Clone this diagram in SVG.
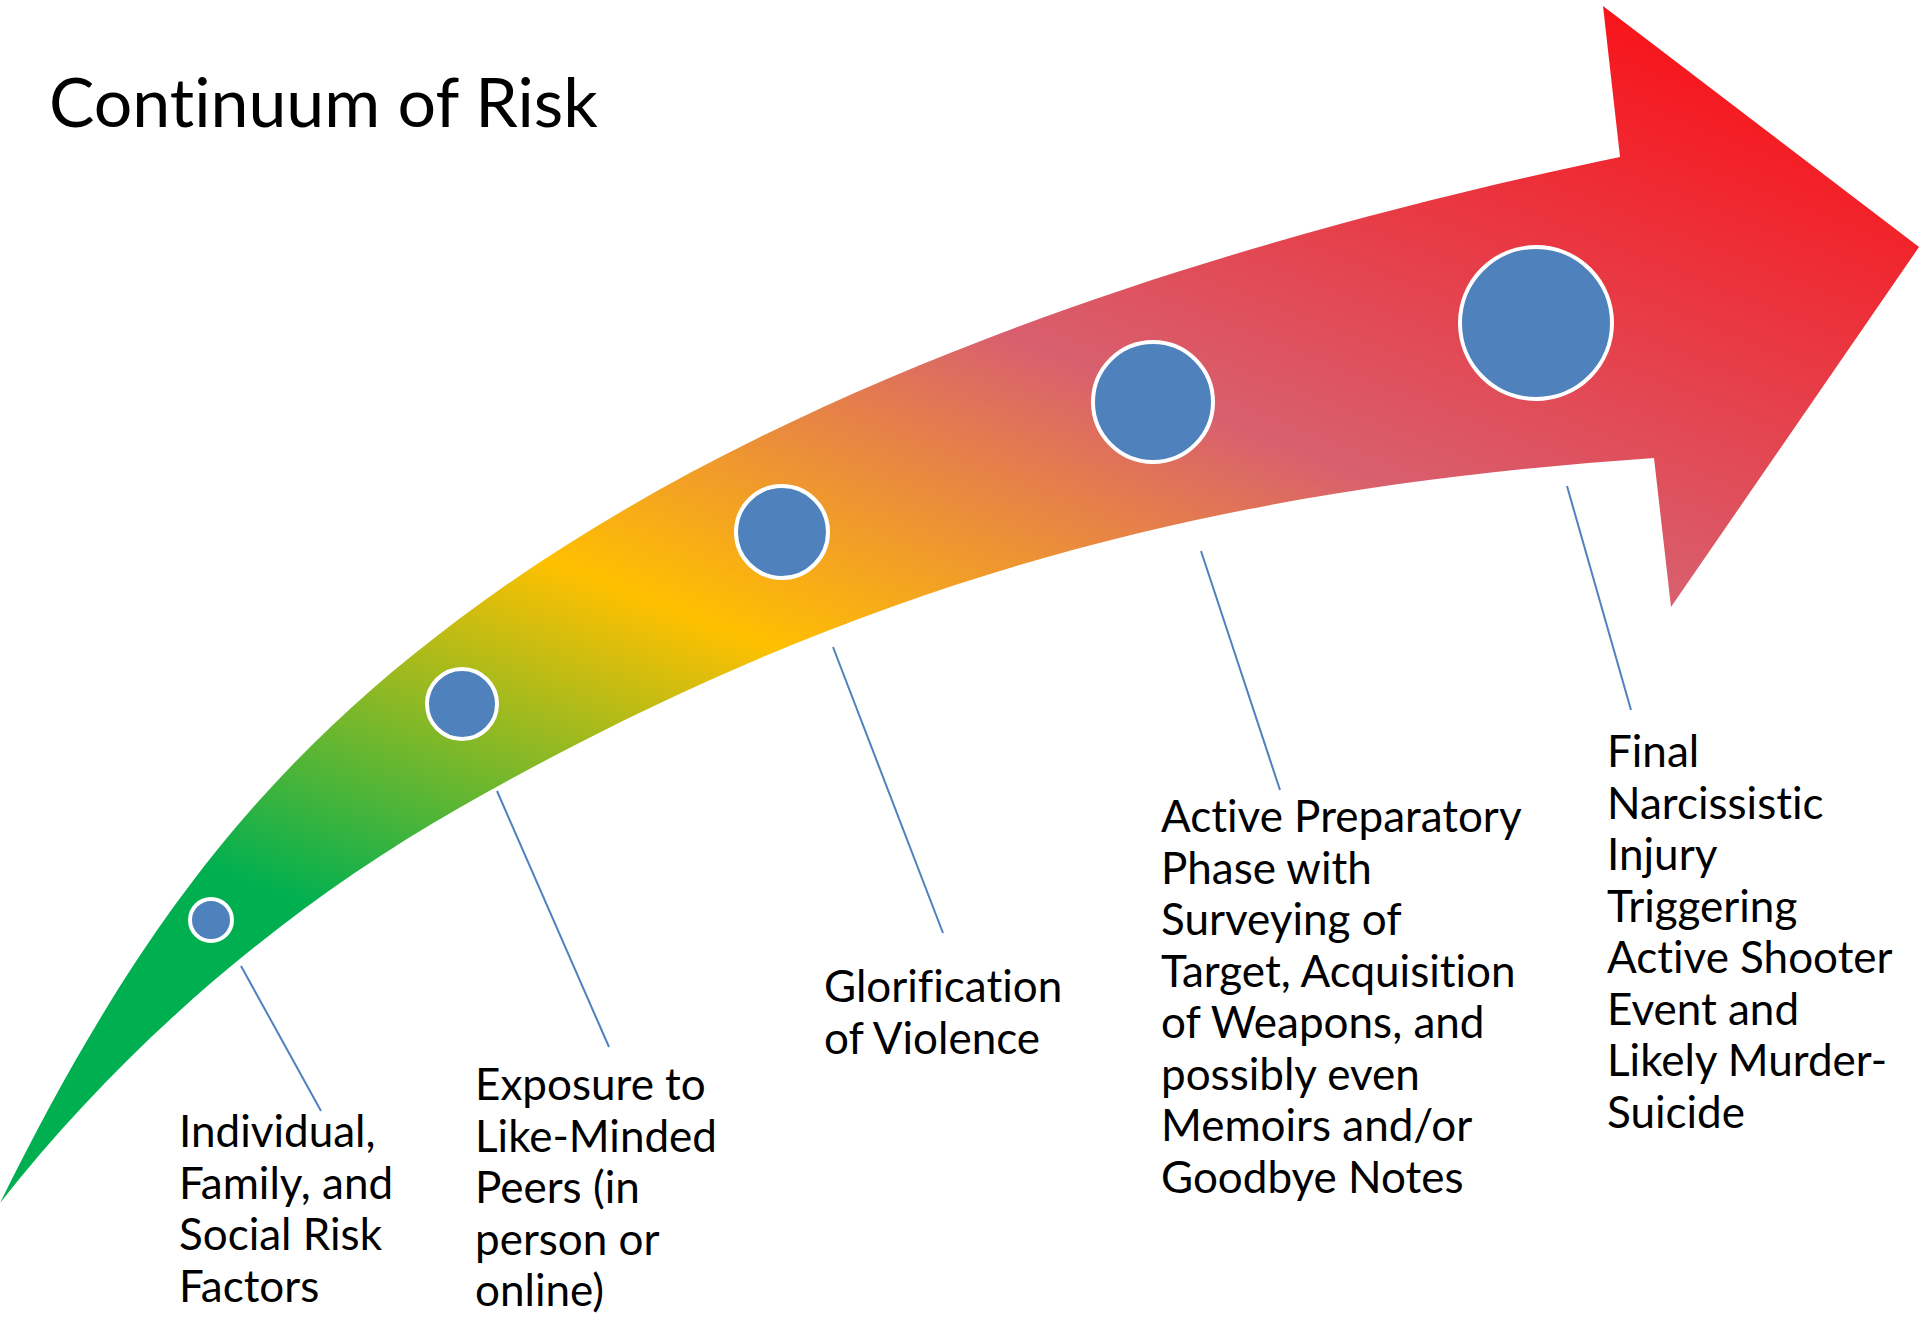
<svg xmlns="http://www.w3.org/2000/svg" width="1920" height="1317" viewBox="0 0 1920 1317">
<defs>
<linearGradient id="riskGrad" gradientUnits="userSpaceOnUse" x1="0" y1="1206" x2="623" y2="-381">
<stop offset="0" stop-color="#00B050"/>
<stop offset="0.23" stop-color="#00B050"/>
<stop offset="0.47" stop-color="#FFC000"/>
<stop offset="0.69" stop-color="#D8606E"/>
<stop offset="1" stop-color="#F8141A"/>
</linearGradient>
<style>
.dot{fill:#4F81BD;stroke:#FFFFFF;stroke-width:4}
.lead{stroke:#4F81BD;stroke-width:2;fill:none}
.lbl{font-family:Lato,"Open Sans","Liberation Sans",sans-serif;font-size:44px;fill:#000000;font-variant-ligatures:none;font-feature-settings:"liga" 0,"clig" 0}
.title{font-family:Lato,"Open Sans","Liberation Sans",sans-serif;font-size:68px;fill:#000000;font-variant-ligatures:none;font-feature-settings:"liga" 0,"clig" 0}
</style>
</defs>
<rect width="1920" height="1317" fill="#FFFFFF"/>
<text class="title" x="49" y="127">Continuum of Risk</text>
<g id="arrow">
<path fill="url(#riskGrad)" d="M 0,1203 C 134,932 259,769 459,619 C 779,379 1228,239 1620,157 L 1603,6 L 1919,247 L 1671,607 L 1654,458 C 1235,487 876,570 459,808 C 285,907 125,1044 0,1203 Z"/>
</g>
<g id="connectors">
<line class="lead" x1="241" y1="966" x2="321" y2="1111"/>
<line class="lead" x1="497" y1="791" x2="609" y2="1047"/>
<line class="lead" x1="833" y1="647" x2="943" y2="933"/>
<line class="lead" x1="1201" y1="551" x2="1280" y2="790"/>
<line class="lead" x1="1567" y1="486" x2="1631" y2="710"/>
</g>
<g id="node1">
<circle class="dot" cx="211" cy="920" r="21"/>
<text class="lbl" x="179" y="1147"><tspan x="179">Individual,</tspan><tspan x="179" dy="51.5">Family, and</tspan><tspan x="179" dy="51.5">Social Risk</tspan><tspan x="179" dy="51.5">Factors</tspan></text>
</g>
<g id="node2">
<circle class="dot" cx="462" cy="704" r="35"/>
<text class="lbl" x="475" y="1100"><tspan x="475">Exposure to</tspan><tspan x="475" dy="51.5">Like-Minded</tspan><tspan x="475" dy="51.5">Peers (in</tspan><tspan x="475" dy="51.5">person or</tspan><tspan x="475" dy="51.5">online)</tspan></text>
</g>
<g id="node3">
<circle class="dot" cx="782" cy="532" r="46"/>
<text class="lbl" x="824" y="1002"><tspan x="824">Glorification</tspan><tspan x="824" dy="51.5">of Violence</tspan></text>
</g>
<g id="node4">
<circle class="dot" cx="1153" cy="402" r="60"/>
<text class="lbl" x="1161" y="832"><tspan x="1161">Active Preparatory</tspan><tspan x="1161" dy="51.5">Phase with</tspan><tspan x="1161" dy="51.5">Surveying of</tspan><tspan x="1161" dy="51.5">Target, Acquisition</tspan><tspan x="1161" dy="51.5">of Weapons, and</tspan><tspan x="1161" dy="51.5">possibly even</tspan><tspan x="1161" dy="51.5">Memoirs and/or</tspan><tspan x="1161" dy="51.5">Goodbye Notes</tspan></text>
</g>
<g id="node5">
<circle class="dot" cx="1536" cy="323" r="76"/>
<text class="lbl" x="1607" y="767"><tspan x="1607">Final</tspan><tspan x="1607" dy="51.5">Narcissistic</tspan><tspan x="1607" dy="51.5">Injury</tspan><tspan x="1607" dy="51.5">Triggering</tspan><tspan x="1607" dy="51.5">Active Shooter</tspan><tspan x="1607" dy="51.5">Event and</tspan><tspan x="1607" dy="51.5">Likely Murder-</tspan><tspan x="1607" dy="51.5">Suicide</tspan></text>
</g>
</svg>
